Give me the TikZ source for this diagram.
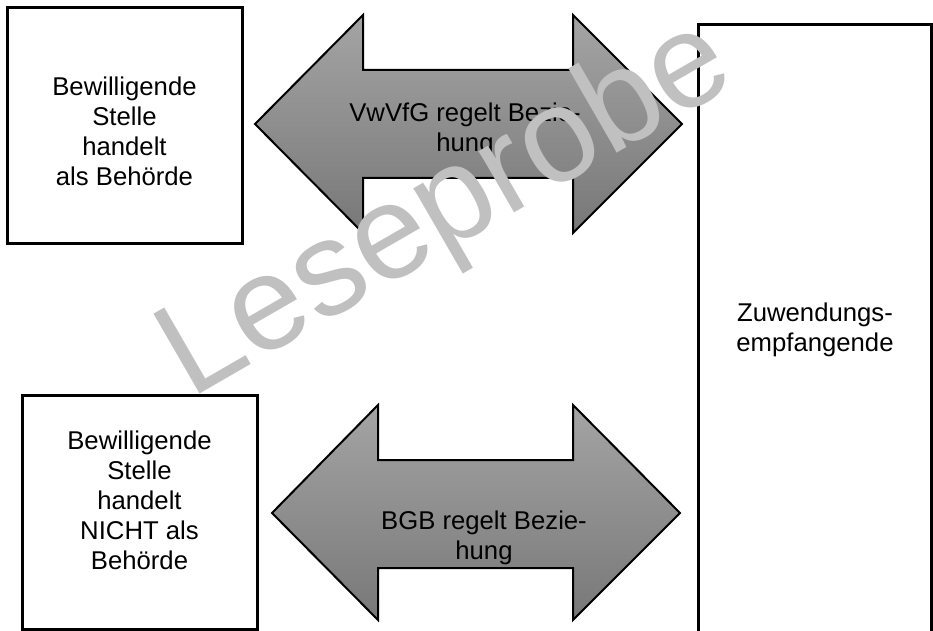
\documentclass[tikz,border=0pt]{standalone}
\usepackage{fontspec}
\setmainfont{Liberation Sans}
\usepackage[dvipsnames]{xcolor}

\definecolor{arrowtop}{HTML}{A4A4A4}
\definecolor{arrowbot}{HTML}{787878}
\definecolor{wmgray}{HTML}{C0C0C0}

\begin{document}
\begin{tikzpicture}[x=0.5pt,y=-0.5pt,line join=miter,
    box node/.style={rectangle,draw,line width=1.5pt,inner sep=0pt},
    text node/.style={align=center,font=\fontsize{12.85}{15}\selectfont},
    arrow shape/.style={draw,line width=1pt,top color=arrowtop,bottom color=arrowbot},
    watermark/.style={text=wmgray,font=\fontsize{67}{67}\selectfont,inner sep=0pt}]

            \clip (0,0) rectangle (933,631);

            % boxes
            \node[box node, minimum width=117.5pt, minimum height=118pt] (1) at (124.5,126) {};
            \node[box node, minimum width=117.5pt, minimum height=117pt] (2) at (139.5,512) {};
            \node[box node, minimum width=116.5pt, minimum height=315pt] (3) at (814.5,340) {};

            \node[text node] (t1) at ([yshift=-2.5pt]1.center) {Bewilligende\\Stelle\\handelt\\als Behörde};
            \node[text node] (t2) at ([yshift=6pt]2.center) {Bewilligende\\Stelle\\handelt\\NICHT als\\Behörde};
            \node[text node] (t3) at (815,330) {Zuwendungs-\\empfangende};

            % arrows
            \shade[arrow shape] (255,124) -- (363,15) -- (363,70) -- (573,70) -- (573,15) -- (682,124)
                -- (573,233) -- (573,178) -- (363,178) -- (363,233) -- cycle;
            \shade[arrow shape] (272,513) -- (378,405) -- (378,460) -- (573,460) -- (573,405) -- (680,513)
                -- (573,620) -- (573,568) -- (378,568) -- (378,620) -- cycle;

            \node[text node] (a1) at (465,130) {VwVfG regelt Bezie-\\hung};
            \node[text node] (a2) at (484,538) {BGB regelt Bezie-\\hung};

            \node[watermark, anchor=base west, rotate=30] (wm) at (190,400) {Leseprobe};

            ;
        \end{tikzpicture}
\end{document}
